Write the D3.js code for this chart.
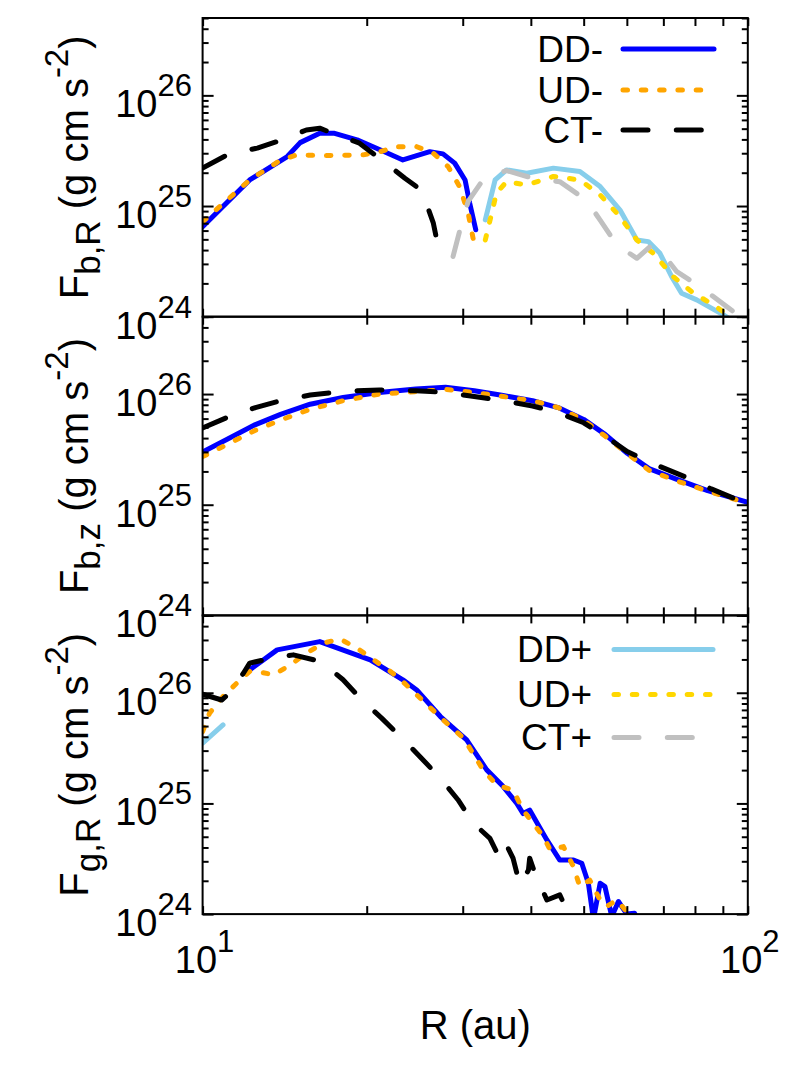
<!DOCTYPE html>
<html>
<head>
<meta charset="utf-8">
<script src="https://cdn.jsdelivr.net/npm/d3@7"></script>
<style>
  body { margin: 0; background: #fff; }
  text { font-family: "Liberation Sans", Arial, sans-serif; fill: #000; }
</style>
</head>
<body>
<svg id="chart" width="797" height="1065"></svg>
<script>
// values: [R (au), F (g cm s^-2)]
const fbR_DDm = [[10,6.5e24],[12.2,1.72e25],[14.3,2.8e25],[15.1,3.74e25],[16.4,4.55e25],[17.4,4.55e25],[19.2,3.96e25],[21.2,3.21e25],[23.3,2.61e25],[26.1,3.1e25],[27.6,2.96e25],[29.0,2.44e25],[30.3,1.72e25],[30.9,1.06e25],[31.7,6.1e24]];
const fbR_UDm = [[10,7.2e24],[12.2,1.72e25],[13.9,2.6e25],[14.9,2.9e25],[16.6,2.85e25],[19.7,2.9e25],[21.2,3.1e25],[22.7,3.44e25],[24.7,3.44e25],[26.5,3.0e25],[28.2,2.27e25],[29.6,1.5e25],[30.7,8.6e24],[31.5,4.5e24]];
const fbR_CTm = [[10,2.2e25],[11.1,2.9e25],[12.6,3.34e25],[14.0,3.96e25],[15.5,4.87e25],[16.4,5.05e25],[17.5,4.46e25],[19.4,3.7e25],[21.5,2.52e25],[23.5,1.78e25],[24.9,1.45e25],[25.6,1.13e25],[26.5,7.0e24],[27.2,3.74e24]];
const fbR_DDp = [[33.0,7.5e24],[34.4,1.72e25],[36.1,2.12e25],[39.3,1.98e25],[44.0,2.2e25],[49.2,2.05e25],[53.6,1.5e25],[58.3,9.2e24],[62.6,4.93e24],[65.7,4.77e24],[69.0,3.74e24],[72.5,2.3e24],[75.6,1.63e24],[80.6,1.42e24],[90.2,1.04e24],[96,8.5e23]];
const fbR_UDp = [[33.0,4.93e24],[34.6,1.31e25],[36.1,1.66e25],[39.3,1.55e25],[44.0,1.85e25],[49.2,1.72e25],[53.6,1.26e25],[58.3,8.0e24],[62.6,4.93e24],[67.1,3.74e24],[73.0,2.3e24],[79.5,1.63e24],[86.5,1.28e24],[92.8,1.0e24],[97,9e23]];
const fbR_CTp = [[28.8,3.5e24],[29.7,6.3e24],[30.7,1.1e25],[33.0,1.85e25],[36.1,2.09e25],[40.4,1.78e25],[45.2,1.66e25],[50.6,1.13e25],[53.6,7.45e24],[57.5,4.45e24],[62.6,3.37e24],[66.2,4.3e24],[69.0,4.0e24],[74.1,2.55e24],[81.7,1.87e24],[88.9,1.37e24],[96.8,1.0e24],[100,9e23]];

const fbz_DDm = [[10,3.0e25],[11.05,3.86e25],[12.5,5.3e25],[13.9,6.56e25],[15.75,8.1e25],[18.1,9.3e25],[21.1,1.035e26],[24.6,1.11e26],[27.9,1.15e26],[31.5,1.07e26],[35.6,9.7e25],[40.3,8.7e25],[44.9,7.55e25],[50.0,5.9e25],[54.8,4.3e25],[60.1,2.92e25],[65.9,2.12e25],[73.5,1.72e25],[84.4,1.34e25],[100,1.05e25]];
const fbz_UDm = [[10,2.72e25],[11.05,3.47e25],[12.5,4.71e25],[13.9,5.82e25],[15.75,7.28e25],[18.1,8.7e25],[21.1,1.0e26],[24.6,1.05e26],[27.9,1.1e26],[31.5,1.035e26],[35.6,9.5e25],[40.3,8.7e25],[44.9,7.55e25],[50.0,5.8e25],[54.8,4.15e25],[60.1,2.9e25],[65.9,2.05e25],[73.5,1.66e25],[84.4,1.33e25],[100,1.03e25]];
const fbz_CTm = [[10,4.94e25],[11.05,6.1e25],[12.5,7.55e25],[13.9,8.7e25],[15.75,9.8e25],[18.1,1.057e26],[21.1,1.09e26],[24.6,1.07e26],[27.9,1.035e26],[31.5,9.5e25],[35.6,8.7e25],[40.3,7.8e25],[44.9,6.8e25],[50.0,5.5e25],[54.8,4.15e25],[60.1,3.02e25],[68.0,2.28e25],[76.9,1.78e25],[85.7,1.39e25],[100,1.01e25]];

const fgR_DDm = [[12.2,1.61e26],[13.7,2.44e26],[16.4,2.9e26],[20.3,1.98e26],[23.3,1.31e26],[24.7,1.06e26],[27.3,6.1e25],[30.5,3.75e25],[33.2,2.01e25],[35.6,1.42e25],[37.7,1.0e25],[38.7,8.1e24],[39.8,8.7e24],[42.8,4.68e24],[45.2,3.08e24],[47.9,3.08e24],[49.6,2.88e24],[51.0,1.9e24],[52.1,9e23],[53.6,1.9e24],[54.7,1.77e24],[56.3,9.5e23],[57.9,1.3e24],[60.0,1.0e24],[62.0,1.02e24],[63,8e23]];
const fgR_UDm = [[10,4.46e25],[10.3,6.55e25],[10.9,9.25e25],[11.55,1.22e26],[12.2,1.56e26],[12.56,1.56e26],[13.5,1.45e26],[14.5,1.79e26],[15.5,2.28e26],[16.65,2.81e26],[17.87,3.06e26],[19.2,2.53e26],[20.6,1.98e26],[22.1,1.56e26],[23.3,1.26e26],[25.1,8.9e25],[27.6,5.7e25],[30.1,3.9e25],[32.7,2.01e25],[34.6,1.47e25],[37.1,1.32e25],[38.7,8.7e24],[40.4,6.6e24],[42.2,5.0e24],[43.4,3.8e24],[45.9,4.07e24],[47.9,2.68e24],[49.2,1.77e24],[51.3,2.03e24],[53.6,1.34e24],[55.1,1.17e24],[57.5,1.34e24],[60.0,1.05e24],[61,8e23]];
const fgR_CTm = [[10,9.7e25],[10.84,8.6e25],[11.07,9.4e25],[11.88,1.5e26],[12.2,1.85e26],[13.1,2.01e26],[14.67,2.2e26],[16.5,1.91e26],[18.1,1.31e26],[19.6,8.6e25],[21.3,5.9e25],[23.2,3.9e25],[25.2,2.56e25],[27.3,1.69e25],[29.4,1.08e25],[31.4,6.6e24],[33.65,4.84e24],[34.6,3.66e24],[35.6,4.84e24],[37.1,3.2e24],[38.2,1.83e24],[39.6,2.5e24],[39.8,3.2e24],[40.6,2.42e24],[42.8,1.34e24],[45.2,1.49e24],[45.8,1.3e24]];
const fgR_DDp = [[10,3.5e25],[10.9,5.13e25]];

const xMajor = [10, 100],
	xMinor = [20, 30, 40, 50, 60, 70, 80, 90],
	yMajor = [1e24, 1e25, 1e26],
	yMinor = [2,3,4,5,6,7,8,9].map(m => m * 1e24)
		.concat([2,3,4,5,6,7,8,9].map(m => m * 1e25), [2,3,4,5].map(m => m * 1e26));

const styles = {
	'DD-': { color: '#0000ff', dash: null },
	'UD-': { color: '#ffa500', dash: '4.5 13.8' },
	'CT-': { color: '#000000', dash: '25 28.3' },
	'DD+': { color: '#87ceeb', dash: null },
	'UD+': { color: '#ffd700', dash: '4.5 13.8' },
	'CT+': { color: '#c0c0c0', dash: '25 28.3' }
};

const panels = [
	{ top: 18, sub: 'b,R',
		series: [['DD-', fbR_DDm], ['UD-', fbR_UDm], ['CT-', fbR_CTm], ['DD+', fbR_DDp], ['UD+', fbR_UDp], ['CT+', fbR_CTp]],
		legend: { keys: ['DD-', 'UD-', 'CT-'], textX: 603, x1: 623, x2: 714, ys: [31, 72, 112] } },
	{ top: 316.7, sub: 'b,z',
		series: [['DD-', fbz_DDm], ['UD-', fbz_UDm], ['CT-', fbz_CTm]] },
	{ top: 615.4, sub: 'g,R',
		series: [['DD-', fgR_DDm], ['UD-', fgR_UDm], ['CT-', fgR_CTm], ['DD+', fgR_DDp]],
		legend: { keys: ['DD+', 'UD+', 'CT+'], textX: 592, x1: 614, x2: 713, ys: [34, 79, 122] } }
];

const X0 = 202.6, X1 = 747.8, PH = 298.7;

const svg = d3.select('#chart');

const x = d3.scaleLog().domain([10, 100]).range([X0, X1]);
const y = d3.scaleLog().domain([1e24, 5e26]).range([PH, 0]);

const line = d3.line()
	.x(d => x(d[0]))
	.y(d => y(d[1]));

// "10" with a raised exponent
function powerLabel(sel, exp) {
	sel.append('tspan').text('10');
	sel.append('tspan').attr('dy', -21).style('font-size', '31px').text(exp);
}

panels.forEach((p, i) => {
	const g = svg.append('g').attr('transform', `translate(0,${p.top})`);

	g.append('clipPath').attr('id', 'clip' + i)
		.append('rect').attr('x', X0).attr('y', 0).attr('width', X1 - X0).attr('height', PH);

	// curves
	const curves = g.append('g').attr('clip-path', `url(#clip${i})`);
	p.series.forEach(([key, data]) => {
		const s = styles[key];
		curves.append('path')
			.datum(data)
			.attr('d', line)
			.attr('fill', 'none')
			.attr('stroke', s.color)
			.attr('stroke-width', 5)
			.attr('stroke-linejoin', 'round')
			.attr('stroke-linecap', 'round')
			.attr('stroke-dasharray', s.dash);
	});

	// inward ticks on all four sides
	const tickAxis = (axis, values, size, tr) => {
		g.append('g').attr('transform', tr)
			.call(axis.tickValues(values).tickSize(size).tickSizeOuter(0).tickFormat(''))
			.call(a => a.select('.domain').remove())
			.call(a => a.selectAll('line').attr('stroke', '#000').attr('stroke-width', 2));
	};
	tickAxis(d3.axisLeft(y), yMajor, -11, `translate(${X0},0)`);
	tickAxis(d3.axisLeft(y), yMinor, -6, `translate(${X0},0)`);
	tickAxis(d3.axisRight(y), yMajor, -11, `translate(${X1},0)`);
	tickAxis(d3.axisRight(y), yMinor, -6, `translate(${X1},0)`);
	tickAxis(d3.axisBottom(x), xMajor.concat(xMinor), -8, `translate(0,${PH})`);
	tickAxis(d3.axisTop(x), xMajor.concat(xMinor), -8, 'translate(0,0)');

	g.append('rect')
		.attr('x', X0).attr('y', 0).attr('width', X1 - X0).attr('height', PH)
		.attr('fill', 'none').attr('stroke', '#000').attr('stroke-width', 2);

	// y tick labels 10^n
	yMajor.forEach(v => {
		g.append('text')
			.attr('x', 192).attr('y', y(v) + 22)
			.attr('text-anchor', 'end')
			.style('font-size', '38px')
			.call(powerLabel, Math.round(Math.log10(v)));
	});

	// y title
	const title = g.append('text')
		.attr('transform', `translate(88,${PH / 2}) rotate(-90)`)
		.attr('text-anchor', 'middle')
		.style('font-size', '40px');
	title.append('tspan').text('F');
	title.append('tspan').attr('dy', 12).style('font-size', '35px').text(p.sub);
	title.append('tspan').attr('dy', -12).text(' (g cm s');
	title.append('tspan').attr('dy', -20).style('font-size', '33px').text('-2');
	title.append('tspan').attr('dy', 20).text(')');

	// legend
	if (p.legend) {
		const L = p.legend;
		L.keys.forEach((key, j) => {
			const s = styles[key];
			g.append('text')
				.attr('x', L.textX).attr('y', L.ys[j] + 13)
				.attr('text-anchor', 'end')
				.style('font-size', '37px')
				.text(key);
			g.append('line')
				.attr('x1', L.x1).attr('x2', L.x2)
				.attr('y1', L.ys[j]).attr('y2', L.ys[j])
				.attr('stroke', s.color)
				.attr('stroke-width', 5)
				.attr('stroke-linecap', 'round')
				.attr('stroke-dasharray', s.dash);
		});
	}
});

// x tick labels and title, below the last panel
const bottom = panels[2].top + PH;
xMajor.forEach(v => {
	svg.append('text')
		.attr('x', x(v) + 2).attr('y', bottom + 59)
		.attr('text-anchor', 'middle')
		.style('font-size', '38px')
		.call(powerLabel, Math.round(Math.log10(v)));
});

svg.append('text')
	.attr('x', (X0 + X1) / 2).attr('y', bottom + 125)
	.attr('text-anchor', 'middle')
	.style('font-size', '40px')
	.text('R (au)');
</script>
</body>
</html>
